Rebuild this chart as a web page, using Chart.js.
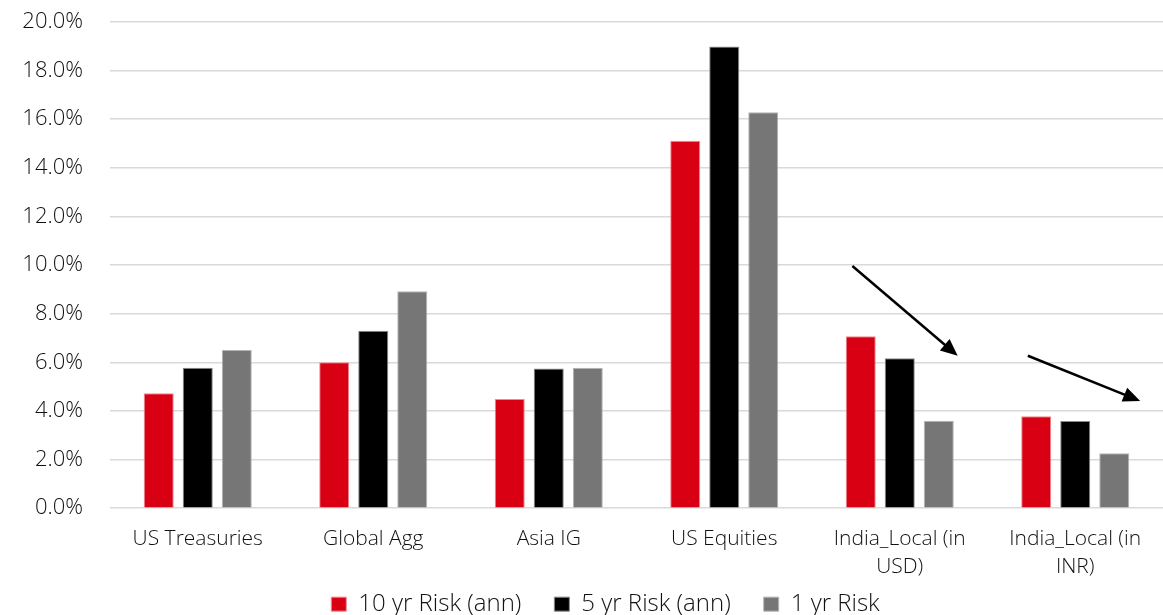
<!DOCTYPE html>
<html>
<head>
<meta charset="utf-8">
<script src="https://cdn.jsdelivr.net/npm/chart.js@4/dist/chart.umd.min.js"></script>
<style>
  html, body { margin: 0; padding: 0; background: #ffffff; }
  #wrap { width: 1163px; height: 615px; position: relative; overflow: hidden; }
</style>
</head>
<body>
<div id="wrap"><canvas id="c" width="1163" height="615"></canvas></div>
<script>
// Asset classes on the x axis
const categories = [
  'US Treasuries',
  'Global Agg',
  'Asia IG',
  'US Equities',
  ['India_Local (in', 'USD)'],
  ['India_Local (in', 'INR)']
];

// Annualised risk (%) per horizon
const risk10y = [4.73, 6.00, 4.49, 15.11, 7.07, 3.78];
const risk5y  = [5.78, 7.30, 5.74, 18.99, 6.17, 3.58];
const risk1y  = [6.51, 8.92, 5.78, 16.29, 3.60, 2.26];

const seriesNames = ['10 yr Risk (ann)', '5 yr Risk (ann)', '1 yr Risk'];

// Y axis tick range
const yMin = 0, yMax = 20, yStep = 2;

// Trend arrows: [category index, x offset in category widths, value] for start and end
const trendArrows = [
  { from: [4, -0.27, 9.96], to: [4, 0.33, 6.27] },
  { from: [5, -0.27, 6.27], to: [5, 0.37, 4.41] }
];

const FONT = '"Open Sans", Roboto, sans-serif';
const LEGEND_PAD = 33;

const arrowPlugin = {
  id: 'trendArrows',
  afterDatasetsDraw(chart) {
    const { ctx, scales: { x, y } } = chart;
    const catW = x.getPixelForValue(1) - x.getPixelForValue(0);
    const px = p => [x.getPixelForValue(p[0]) + p[1] * catW, y.getPixelForValue(p[2])];
    ctx.save();
    ctx.strokeStyle = '#000';
    ctx.fillStyle = '#000';
    ctx.lineWidth = 2.5;
    trendArrows.forEach(a => {
      const [x0, y0] = px(a.from);
      const [x1, y1] = px(a.to);
      const ang = Math.atan2(y1 - y0, x1 - x0);
      const headLen = 17, headHalf = 7.5;
      const bx = x1 - headLen * Math.cos(ang);
      const by = y1 - headLen * Math.sin(ang);
      ctx.beginPath();
      ctx.moveTo(x0, y0);
      ctx.lineTo(bx + 2 * Math.cos(ang), by + 2 * Math.sin(ang));
      ctx.stroke();
      ctx.beginPath();
      ctx.moveTo(x1, y1);
      ctx.lineTo(bx + headHalf * Math.sin(ang), by - headHalf * Math.cos(ang));
      ctx.lineTo(bx - headHalf * Math.sin(ang), by + headHalf * Math.cos(ang));
      ctx.closePath();
      ctx.fill();
    });
    ctx.restore();
  }
};

// Place the legend row a fixed distance below the plot area
const legendShift = {
  id: 'legendShift',
  afterLayout(chart) {
    const lg = chart.legend;
    if (!lg) return;
    const dx = 24;
    const h = lg.bottom - lg.top;
    lg.left += dx; lg.right += dx;
    lg.top = chart.chartArea.bottom + 96 - LEGEND_PAD - 12;
    lg.bottom = lg.top + h;
  }
};

const barStyle = (color, edge) => ({
  backgroundColor: color,
  borderColor: edge,
  borderWidth: 1,
  categoryPercentage: 0.667,
  barPercentage: 0.77
});

new Chart(document.getElementById('c'), {
  type: 'bar',
  data: {
    labels: categories,
    datasets: [
      { label: seriesNames[0], data: risk10y, ...barStyle('#da0013', '#f08a90') },
      { label: seriesNames[1], data: risk5y,  ...barStyle('#000000', '#8a8a8a') },
      { label: seriesNames[2], data: risk1y,  ...barStyle('#767676', '#b5b5b5') }
    ]
  },
  options: {
    responsive: false,
    animation: false,
    devicePixelRatio: 1,
    layout: { padding: { top: 0, right: 0, left: 0, bottom: -50 } },
    plugins: {
      tooltip: { enabled: false },
      legend: {
        position: 'bottom',
        labels: {
          font: { family: FONT, size: 24, weight: '300' },
          color: '#111',
          boxWidth: 15,
          boxHeight: 14,
          padding: LEGEND_PAD,
          useBorderRadius: false
        }
      }
    },
    scales: {
      x: {
        grid: { display: false, drawTicks: false },
        border: { display: false },
        ticks: {
          font: { family: FONT, size: 21, weight: '300', lineHeight: 1.33 },
          color: '#111',
          padding: 17,
          maxRotation: 0,
          autoSkip: false
        }
      },
      y: {
        min: yMin,
        max: yMax,
        afterFit(scale) {
          scale.width = 110;
          scale.paddingTop = 22;
          scale.paddingBottom = 12;
        },
        grid: { color: '#d9d9d9', lineWidth: 1.5, drawTicks: false },
        border: { display: false },
        ticks: {
          stepSize: yStep,
          padding: 27,
          font: { family: FONT, size: 22, weight: '300', lineHeight: 1.2 },
          color: '#111',
          callback: v => v.toFixed(1) + '%'
        }
      }
    }
  },
  plugins: [arrowPlugin, legendShift]
});
</script>
</body>
</html>
